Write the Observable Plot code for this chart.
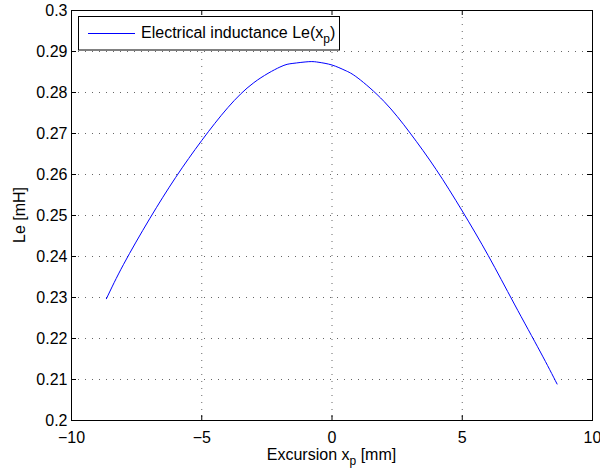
<!DOCTYPE html>
<html>
<head>
<meta charset="utf-8">
<script src="https://cdn.jsdelivr.net/npm/d3@7"></script>
<script src="https://cdn.jsdelivr.net/npm/@observablehq/plot@0.6"></script>
<style>
  html, body { margin: 0; padding: 0; background: #fff; }
  #chart svg { display: block; }
</style>
</head>
<body>
<div id="chart"></div>
<script>
// Data
const excursion = [-8.66, -8, -7, -6, -5, -4, -3, -2, -1.5, -0.89, -0.5, 0, 0.5, 1, 2, 3, 4, 5, 6, 7, 8, 8.64];
const inductance = [0.2297, 0.2381, 0.2492, 0.2593, 0.2683, 0.2763, 0.2824, 0.2862, 0.2871, 0.28752, 0.28736, 0.2867, 0.2854, 0.2835, 0.2778, 0.2701, 0.2612, 0.2511, 0.2402, 0.2284, 0.2167, 0.2089];

const xTicks = [-10, -5, 0, 5, 10];
const xTickLabels = ["\u221210", "\u22125", "0", "5", "10"];
const yTicks = [0.2, 0.21, 0.22, 0.23, 0.24, 0.25, 0.26, 0.27, 0.28, 0.29, 0.3];
const yTickLabels = ["0.2", "0.21", "0.22", "0.23", "0.24", "0.25", "0.26", "0.27", "0.28", "0.29", "0.3"];

const seriesName = "Electrical inductance Le(x";
const xLabel = "Excursion x";
const yLabel = "Le [mH]";

const rows = excursion.map((x, i) => ({x, le: inductance[i]}));
const find = (arr, labels, d) => labels[arr.findIndex(v => Math.abs(v - d) < 1e-9)];

const W = 600, H = 472, mL = 71, mR = 8, mT = 10, mB = 52;
const innerW = W - mL - mR, innerH = H - mT - mB;
const FONT = "'Liberation Sans', Arial, Helvetica, sans-serif";

const chart = Plot.plot({
  width: W, height: H,
  marginLeft: mL, marginRight: mR, marginTop: mT, marginBottom: mB,
  x: {domain: [-10, 10]},
  y: {domain: [0.2, 0.3]},
  style: {fontFamily: FONT, fontSize: "16px", background: "#fff", color: "#000"},
  marks: [
    Plot.gridX(xTicks.slice(1, -1), {stroke: "#000", strokeOpacity: 0.6, strokeDasharray: "1,6"}),
    Plot.gridY(yTicks.slice(1, -1), {stroke: "#000", strokeOpacity: 0.6, strokeDasharray: "1,6"}),
    Plot.line(rows, {x: "x", y: "le", stroke: "#0000ff", strokeWidth: 1, curve: "natural"}),
    Plot.tickX(xTicks, {x: d => d, insetTop: innerH - 5, stroke: "#000"}),
    Plot.tickX(xTicks, {x: d => d, insetBottom: innerH - 5, stroke: "#000"}),
    Plot.tickY(yTicks, {y: d => d, insetRight: innerW - 5, stroke: "#000"}),
    Plot.tickY(yTicks, {y: d => d, insetLeft: innerW - 5, stroke: "#000"}),
    Plot.frame({stroke: "#000"}),
    Plot.axisX(xTicks, {tickSize: 0, tickPadding: 11, label: null, fontSize: 16,
      tickFormat: d => find(xTicks, xTickLabels, d)}),
    Plot.axisY(yTicks, {tickSize: 0, tickPadding: 4, label: null, fontSize: 16,
      tickFormat: d => find(yTicks, yTickLabels, d)})
  ]
});

const svg = d3.select(chart);

// x-axis label with subscript
const xl = svg.append("text")
  .attr("x", mL + innerW / 2).attr("y", 460)
  .attr("text-anchor", "middle")
  .attr("font-family", FONT).attr("font-size", 16).attr("fill", "#000");
xl.append("tspan").text(xLabel);
xl.append("tspan").attr("font-size", 12).attr("dy", 5).text("p");
xl.append("tspan").attr("dy", -5).text(" [mm]");

// y-axis label
svg.append("text")
  .attr("transform", `translate(25,${mT + innerH / 2}) rotate(-90)`)
  .attr("text-anchor", "middle")
  .attr("font-family", FONT).attr("font-size", 16).attr("fill", "#000")
  .text(yLabel);

// legend
const lg = svg.append("g");
lg.append("rect").attr("x", 78.5).attr("y", 16.5).attr("width", 261).attr("height", 33.5)
  .attr("fill", "#fff").attr("stroke", "#000").attr("stroke-width", 1);
lg.append("path").attr("d", "M88,33.5H135")
  .attr("fill", "none").attr("stroke", "#0000ff").attr("stroke-width", 1);
const lt = lg.append("text").attr("x", 141).attr("y", 37.5)
  .attr("text-anchor", "start")
  .attr("font-family", FONT).attr("font-size", 16).attr("fill", "#000");
lt.append("tspan").text(seriesName);
lt.append("tspan").attr("font-size", 12).attr("dy", 5).text("p");
lt.append("tspan").attr("dy", -5).text(")");

document.getElementById("chart").appendChild(chart);
</script>
</body>
</html>
